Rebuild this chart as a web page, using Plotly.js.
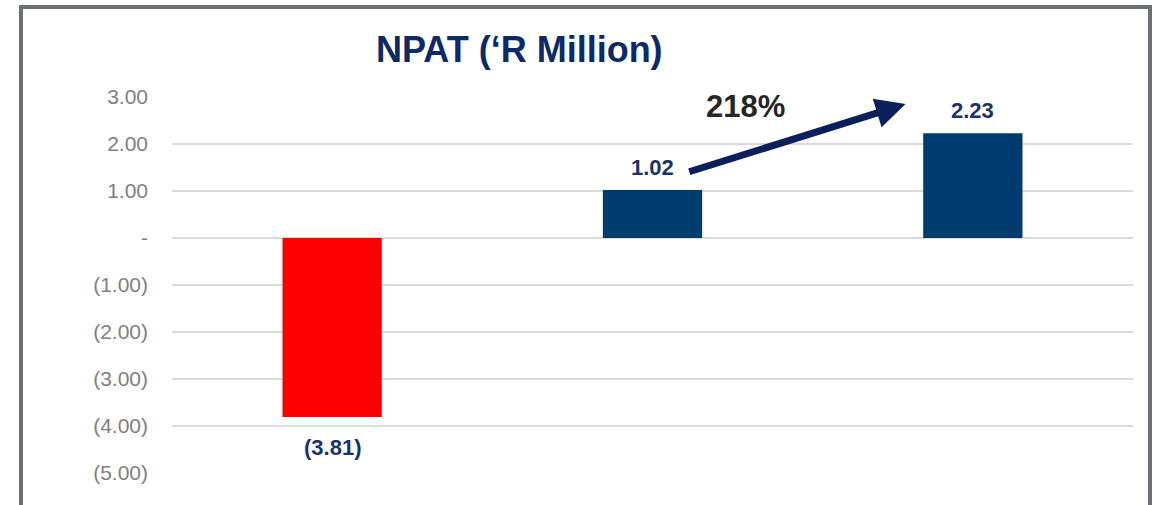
<!DOCTYPE html>
<html>
<head>
<meta charset="utf-8">
<script src="https://cdn.plot.ly/plotly-3.0.1.min.js"></script>
<style>
  body { margin: 0; background: #fff; }
  #chart { position: absolute; left: 0; top: 0; width: 1165px; height: 505px; }
  #frame {
    position: absolute; left: 19px; top: 5px; width: 1125px; height: 520px;
    border: 4px solid #6d7073; border-bottom: none; pointer-events: none;
  }
</style>
</head>
<body>
<div id="chart"></div>
<div id="frame"></div>
<script>
// NPAT in R million, three periods
const periods = ['Period 1', 'Period 2', 'Period 3'];
const npat = [-3.81, 1.02, 2.23];
const barColors = ['#ff0000', '#003d6e', '#003d6e'];
const labels = ['(3.81)', '1.02', '2.23'];
const growthLabel = '218%';

const tickVals = [3, 2, 1, 0, -1, -2, -3, -4, -5];
const tickText = ['3.00', '2.00', '1.00', '-', '(1.00)', '(2.00)', '(3.00)', '(4.00)', '(5.00)'];

const navy = '#1b3168';
const font = '"Liberation Sans", Arial, sans-serif';

const bars = {
    x: periods,
    y: npat,
    type: 'bar',
    marker: { color: barColors },
    hoverinfo: 'skip'
};

// value labels: above positive bars, below negative ones
const valueLabels = npat.map((v, i) => ({
    xref: 'x', yref: 'y',
    x: periods[i], y: v,
    text: '<b>' + labels[i] + '</b>',
    showarrow: false,
    xanchor: 'center',
    yanchor: v >= 0 ? 'bottom' : 'top',
    yshift: v >= 0 ? 8 : -16,
    font: { family: font, size: 22, color: navy }
}));

const layout = {
    width: 1165,
    height: 505,
    margin: { l: 172, r: 32, t: 97, b: 32 },
    paper_bgcolor: '#fff',
    plot_bgcolor: '#fff',
    showlegend: false,
    bargap: 0.69,
    xaxis: {
        type: 'category',
        showticklabels: false,
        showgrid: false,
        zeroline: false,
        showline: false
    },
    yaxis: {
        range: [-5, 3],
        tickvals: tickVals,
        ticktext: tickText,
        tickfont: { family: font, size: 21, color: '#7f7f7f' },
        ticklabelstandoff: 23,
        gridcolor: '#d9d9d9',
        gridwidth: 1.5,
        zeroline: true,
        zerolinecolor: '#d9d9d9',
        zerolinewidth: 1.5,
        showline: false
    },
    annotations: [
        {
            xref: 'paper', yref: 'paper',
            x: 0.362, y: 1.126, xanchor: 'center', yanchor: 'middle',
            text: "<b>NPAT (‘R Million)</b>",
            showarrow: false,
            font: { family: font, size: 36, color: '#0e2a66' }
        },
        {
            // growth arrow from the second bar's label to the third's
            xref: 'x', yref: 'y', axref: 'x', ayref: 'y',
            x: 1.79, y: npat[2] + 0.62,
            ax: 1.11, ay: npat[1] + 0.38,
            showarrow: true,
            arrowhead: 2,
            arrowsize: 0.85,
            arrowwidth: 7,
            arrowcolor: '#0a1f5c',
            text: ''
        },
        {
            xref: 'x', yref: 'y',
            x: 1.29, y: npat[2] + 0.57,
            text: '<b>' + growthLabel + '</b>',
            showarrow: false,
            font: { family: font, size: 31, color: '#262626' }
        }
    ].concat(valueLabels)
};

Plotly.newPlot('chart', [bars], layout, { displayModeBar: false, staticPlot: true });
</script>
</body>
</html>
